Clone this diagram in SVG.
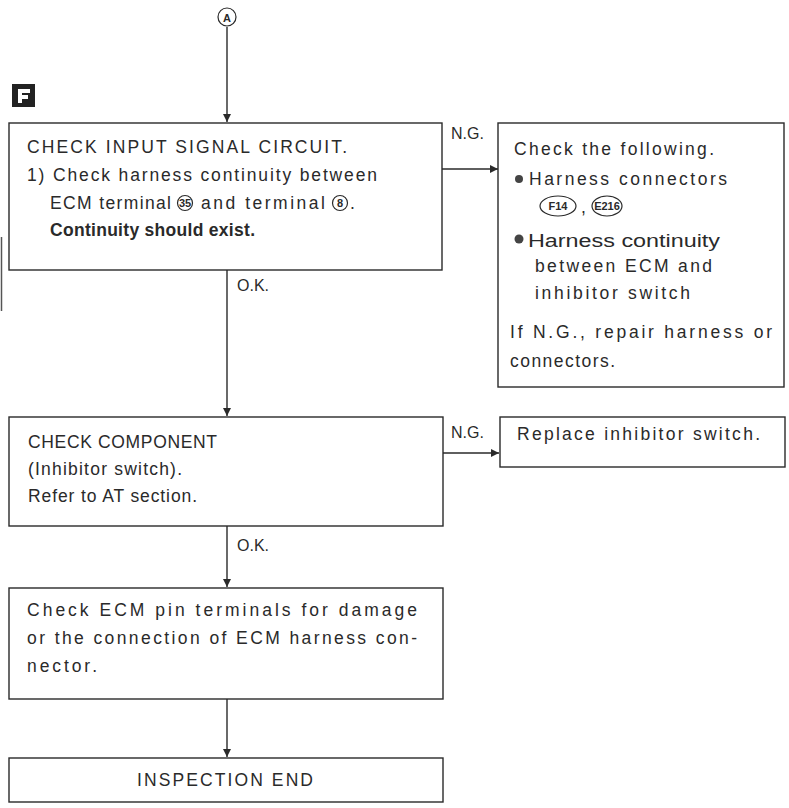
<svg xmlns="http://www.w3.org/2000/svg" width="789" height="808" viewBox="0 0 789 808">
<style>
.box{fill:#fff;stroke:#2a2a2a;stroke-width:1.4}
.t{font-family:"Liberation Sans",Arial,sans-serif;font-size:17.5px;fill:#2a2a2a}
.b{font-weight:bold}
.lbl{font-family:"Liberation Sans",Arial,sans-serif;font-size:16px;fill:#2a2a2a}
.ln{stroke:#2a2a2a;stroke-width:1.4;fill:none}
.sm{font-family:"Liberation Sans",Arial,sans-serif;font-size:11px;font-weight:bold;fill:#2a2a2a}
.cn{fill:#fff;stroke:#2a2a2a;stroke-width:1.2}
</style>
<defs>
<marker id="ah" markerWidth="9" markerHeight="9" refX="8" refY="4.5" orient="auto" markerUnits="userSpaceOnUse">
<path d="M0,0.5 L8,4.5 L0,8.5 Z" fill="#2a2a2a"/>
</marker>
</defs>
<rect width="789" height="808" fill="#fff"/>
<line x1="1.5" y1="237" x2="1.5" y2="311" stroke="#555" stroke-width="1.5"/>

<g id="connectors">
<line class="ln" x1="227" y1="27" x2="227" y2="122" marker-end="url(#ah)"/>
<line class="ln" x1="442" y1="169" x2="498" y2="169" marker-end="url(#ah)"/>
<line class="ln" x1="227" y1="270" x2="227" y2="416" marker-end="url(#ah)"/>
<line class="ln" x1="443" y1="453" x2="499" y2="453" marker-end="url(#ah)"/>
<line class="ln" x1="227" y1="526" x2="227" y2="587" marker-end="url(#ah)"/>
<line class="ln" x1="227" y1="699" x2="227" y2="757" marker-end="url(#ah)"/>
<text class="lbl" x="451" y="139">N.G.</text>
<text class="lbl" x="237" y="291">O.K.</text>
<text class="lbl" x="451" y="438">N.G.</text>
<text class="lbl" x="237" y="551">O.K.</text>
</g>

<g id="startA">
<circle cx="227" cy="17" r="9" fill="#fff" stroke="#2a2a2a" stroke-width="1.2"/>
<text class="sm" x="227" y="21.5" text-anchor="middle">A</text>
</g>

<g id="sectionF">
<rect x="12" y="84" width="23" height="23" fill="#222"/>
<path d="M18,89 H30 V93 H22 V95 H28 V99 H22 V103 H18 Z" fill="#fff"/>
</g>

<g id="check-input">
<rect class="box" x="9" y="123" width="433" height="147"/>
<text class="t" x="27" y="153" textLength="320" lengthAdjust="spacing">CHECK INPUT SIGNAL CIRCUIT.</text>
<text class="t" x="27" y="181" textLength="350" lengthAdjust="spacing">1) Check harness continuity between</text>
<text class="t" x="50" y="209" textLength="121" lengthAdjust="spacing">ECM terminal</text>
<circle class="cn" cx="185" cy="203" r="7.5"/>
<text class="sm" x="185" y="206.5" text-anchor="middle" font-size="9">35</text>
<text class="t" x="201" y="209" textLength="124" lengthAdjust="spacing">and terminal</text>
<circle class="cn" cx="340" cy="203" r="7.5"/>
<text class="sm" x="340" y="206.5" text-anchor="middle" font-size="9">8</text>
<text class="t" x="350" y="209">.</text>
<text class="t b" x="50" y="236" textLength="205" lengthAdjust="spacing">Continuity should exist.</text>
</g>

<g id="ng-harness">
<rect class="box" x="498" y="123" width="286" height="264"/>
<text class="t" x="514" y="155" textLength="200" lengthAdjust="spacing">Check the following.</text>
<circle cx="519" cy="179" r="4" fill="#444"/>
<text class="t" x="529" y="185" textLength="198" lengthAdjust="spacing">Harness connectors</text>
<ellipse class="cn" cx="558" cy="206" rx="18" ry="10"/>
<text class="sm" x="558" y="210" text-anchor="middle">F14</text>
<text class="t" x="581" y="213">,</text>
<ellipse class="cn" cx="607" cy="206" rx="15" ry="10"/>
<text class="sm" x="607" y="210" text-anchor="middle" font-size="10">E216</text>
<circle cx="519" cy="239" r="4.5" fill="#444"/>
<text class="t" x="528" y="247" font-size="24" textLength="192" lengthAdjust="spacingAndGlyphs">Harness continuity</text>
<text class="t" x="535" y="272" textLength="177" lengthAdjust="spacing">between ECM and</text>
<text class="t" x="535" y="299" textLength="155" lengthAdjust="spacing">inhibitor switch</text>
<text class="t" x="510" y="338" textLength="262" lengthAdjust="spacing">If N.G., repair harness or</text>
<text class="t" x="510" y="367" textLength="105" lengthAdjust="spacing">connectors.</text>
</g>

<g id="check-component">
<rect class="box" x="9" y="417" width="434" height="109"/>
<text class="t" x="28" y="448" textLength="189" lengthAdjust="spacing">CHECK COMPONENT</text>
<text class="t" x="28" y="475" textLength="154" lengthAdjust="spacing">(Inhibitor switch).</text>
<text class="t" x="28" y="502" textLength="169" lengthAdjust="spacing">Refer to AT section.</text>
</g>

<g id="replace-switch">
<rect class="box" x="500" y="417" width="285" height="50"/>
<text class="t" x="517" y="440" textLength="243" lengthAdjust="spacing">Replace inhibitor switch.</text>
</g>

<g id="check-pins">
<rect class="box" x="9" y="588" width="434" height="111"/>
<text class="t" x="27" y="616" textLength="390" lengthAdjust="spacing">Check ECM pin terminals for damage</text>
<text class="t" x="27" y="644" textLength="390" lengthAdjust="spacing">or the connection of ECM harness con-</text>
<text class="t" x="27" y="672" textLength="70" lengthAdjust="spacing">nector.</text>
</g>

<g id="inspection-end">
<rect class="box" x="9" y="758" width="434" height="44"/>
<text class="t" x="137" y="786" textLength="176" lengthAdjust="spacing">INSPECTION END</text>
</g>
</svg>
